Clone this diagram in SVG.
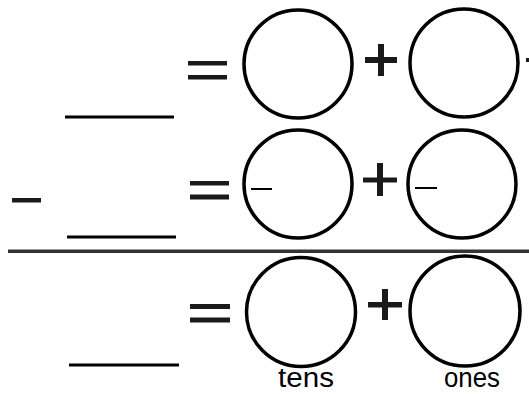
<svg xmlns="http://www.w3.org/2000/svg" width="529" height="394" viewBox="0 0 529 394">
<style>
.c{fill:none;stroke:#000;stroke-width:3.5}
.b{fill:#1a1a1a}
.u{stroke:#000;stroke-width:3}
.t{font-family:"Liberation Sans",Arial,sans-serif;font-size:27px;fill:#000}
</style>
<rect width="529" height="394" fill="#fff"/>
<g id="row1">
<line class="u" x1="65" y1="117" x2="174" y2="117"/>
<rect class="b" x="188" y="61" width="39" height="4.5"/>
<rect class="b" x="188" y="75" width="39" height="4.5"/>
<circle id="r1tens" class="c" cx="298" cy="64" r="54"/>
<rect class="b" x="365" y="57" width="32" height="6"/>
<rect class="b" x="378" y="44" width="6" height="32"/>
<circle id="r1ones" class="c" cx="464" cy="63" r="54"/>
<rect class="b" x="526" y="58" width="3" height="4"/>
</g>
<g id="row2">
<rect class="b" x="12" y="198" width="29" height="4.5"/>
<line class="u" x1="67" y1="237" x2="176" y2="237"/>
<rect class="b" x="190" y="181" width="39" height="4.5"/>
<rect class="b" x="190" y="194.5" width="39" height="5"/>
<circle id="r2tens" class="c" cx="298" cy="184" r="54"/>
<line x1="251" y1="189" x2="272" y2="189" stroke="#000" stroke-width="2"/>
<rect class="b" x="363" y="177.5" width="34" height="5"/>
<rect class="b" x="377" y="163" width="6" height="33"/>
<circle id="r2ones" class="c" cx="462" cy="184" r="54"/>
<line x1="415" y1="188" x2="437" y2="188" stroke="#000" stroke-width="2"/>
</g>
<g id="divider">
<rect x="8" y="249.5" width="521" height="3.5" fill="#333"/>
</g>
<g id="row3">
<line class="u" x1="69" y1="365" x2="179" y2="365"/>
<rect class="b" x="190" y="304" width="40" height="5"/>
<rect class="b" x="190" y="317.5" width="40" height="5"/>
<circle id="r3tens" class="c" cx="301" cy="312" r="54.5"/>
<rect class="b" x="368" y="302" width="34" height="5.5"/>
<rect class="b" x="382" y="289" width="6" height="31"/>
<circle id="r3ones" class="c" cx="465" cy="311" r="55"/>
<text class="t" x="278" y="387" textLength="56" lengthAdjust="spacingAndGlyphs">tens</text>
<text class="t" x="444" y="387" textLength="56" lengthAdjust="spacingAndGlyphs">ones</text>
</g>
</svg>
